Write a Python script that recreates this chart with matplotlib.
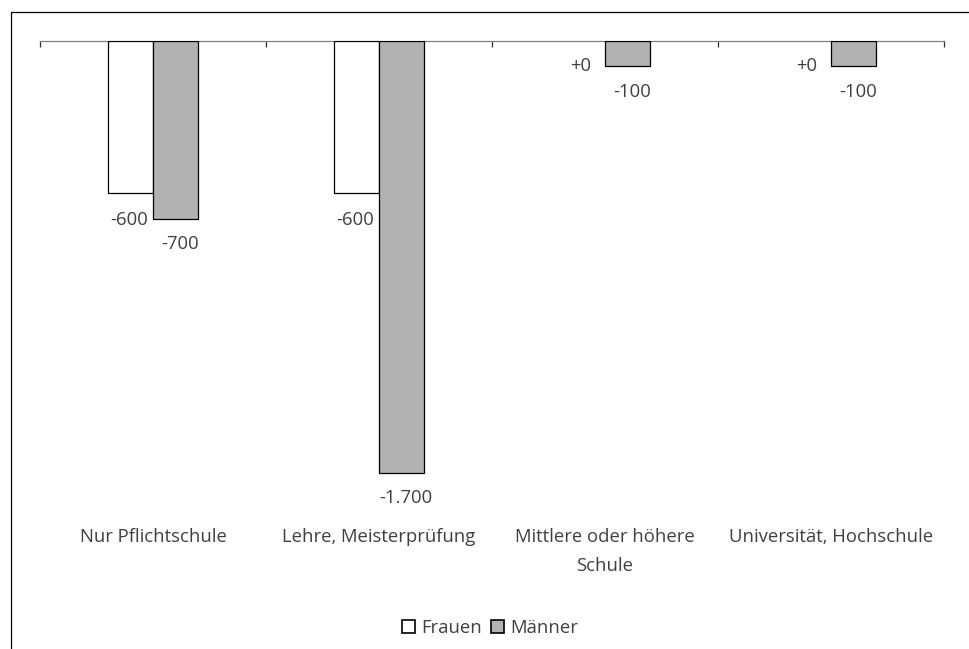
import matplotlib
matplotlib.use("Agg")
import matplotlib.pyplot as plt
import matplotlib.transforms as mtransforms
from matplotlib.patches import Rectangle, Patch
import numpy as np

categories = ["Nur Pflichtschule", "Lehre, Meisterprüfung", "Mittlere oder höhere\nSchule", "Universität, Hochschule"]
frauen = [-600, -600, 0, 0]
maenner = [-700, -1700, -100, -100]
series_names = ["Frauen", "Männer"]

plt.rcParams['font.family'] = ['Open Sans', 'DejaVu Sans']
TXT = '#404040'
FS = 13.3

W, H = 970, 649
fig = plt.figure(figsize=(W/100, H/100), dpi=100)

def fx(px): return px / W
def fy(py): return 1 - py / H

ax_bottom_px = 520
ax = fig.add_axes([fx(40), fy(ax_bottom_px), fx(944 - 40), (ax_bottom_px - 41) / H])
ppu = 0.254  # pixels per unit
ax.set_ylim(-(ax_bottom_px - 41) / ppu, 0)
ax.set_xlim(-0.5, len(categories) - 0.5)

x = np.arange(len(categories))
bw = 0.2
lw_f = [0.9 if v != 0 else 0 for v in frauen]
lw_m = [0.9 if v != 0 else 0 for v in maenner]
ax.bar(x - bw/2, frauen, bw, color='white', edgecolor='black', linewidth=lw_f, zorder=3)
ax.bar(x + bw/2, maenner, bw, color='#b2b2b2', edgecolor='black', linewidth=lw_m, zorder=3)

def fmt(v):
    if v == 0:
        return "+0"
    s = f"{abs(v):,.0f}".replace(",", ".")
    return ("-" if v < 0 else "+") + s

for xi, v in zip(x - bw/2, frauen):
    ax.annotate(fmt(v), (xi, v), xytext=(-1, -19.5 if v != 0 else -18), textcoords='offset points',
                ha='center', va='center', fontsize=FS, color=TXT)
for xi, v in zip(x + bw/2, maenner):
    ax.annotate(fmt(v), (xi, v), xytext=(3, -18.5), textcoords='offset points',
                ha='center', va='center', fontsize=FS, color=TXT)

for s in ['left', 'right', 'bottom']:
    ax.spines[s].set_visible(False)
ax.spines['top'].set_color('#808080')
ax.spines['top'].set_linewidth(0.9)
ax.set_yticks([])
ax.xaxis.set_ticks_position('top')
ax.set_xticks(np.arange(len(categories) + 1) - 0.5)
ax.set_xticklabels([])
ax.tick_params(axis='x', direction='in', length=4.5, width=0.9, color='#303030')

trans = mtransforms.blended_transform_factory(ax.transData, fig.transFigure)
for xi, c in zip(x, categories):
    ax.text(xi, fy(528), c, transform=trans, ha='center', va='top',
            fontsize=FS, color=TXT, linespacing=1.8)

# figure border
fig.patches.append(Rectangle((fx(11), fy(H + 20)), 1.2, (H + 20 - 12) / H,
                             transform=fig.transFigure, fill=False,
                             edgecolor='black', linewidth=0.9))

handles = [Patch(facecolor='white', edgecolor='black', linewidth=1.2),
           Patch(facecolor='#b2b2b2', edgecolor='black', linewidth=1.2)]
leg = fig.legend(handles, series_names, loc='center', bbox_to_anchor=(fx(490), fy(628)),
                 ncol=2, frameon=False, handlelength=0.7, handleheight=0.7,
                 handletextpad=0.35, columnspacing=0.5, fontsize=FS)
for t in leg.get_texts():
    t.set_color(TXT)

fig.savefig("out.png", dpi=100)
